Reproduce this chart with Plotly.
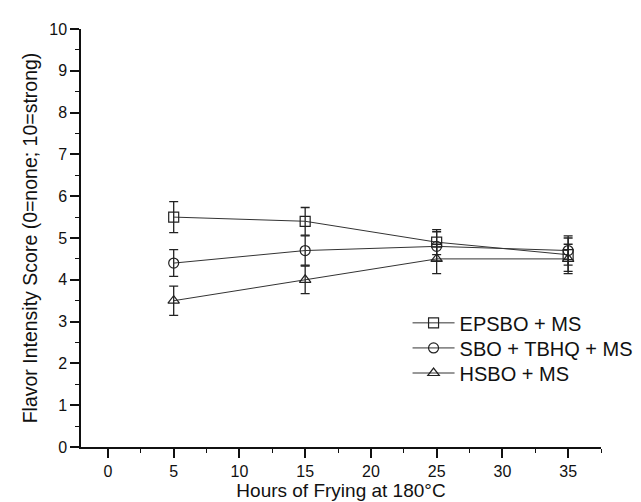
import plotly.graph_objects as go

hours = [5, 15, 25, 35]
series_names = ["EPSBO + MS", "SBO + TBHQ + MS", "HSBO + MS"]
epsbo = [5.5, 5.4, 4.9, 4.6]
epsbo_err = [0.37, 0.33, 0.30, 0.40]
sbo = [4.4, 4.7, 4.8, 4.7]
sbo_err = [0.32, 0.35, 0.35, 0.35]
hsbo = [3.5, 4.0, 4.5, 4.5]
hsbo_err = [0.35, 0.33, 0.35, 0.35]
symbols = ["square-open", "circle-open", "triangle-up-open"]
x_ticks = [0, 5, 10, 15, 20, 25, 30, 35]
y_ticks = list(range(0, 11))

legend_ids = ["legend", "legend2", "legend3"]
legend_y = [0.297, 0.237, 0.177]

font_family = "Liberation Sans, Arial, sans-serif"
fig = go.Figure()
for name, vals, errs, sym, lid in zip(series_names, [epsbo, sbo, hsbo],
                                      [epsbo_err, sbo_err, hsbo_err], symbols, legend_ids):
    fig.add_trace(go.Scatter(
        x=hours, y=vals, name=name, mode="lines+markers", legend=lid,
        line=dict(color="#333333", width=1),
        marker=dict(symbol=sym, size=10, color="#222222",
                    line=dict(width=1.2, color="#222222")),
        error_y=dict(type="data", array=errs, visible=True,
                     color="#222222", thickness=1.3, width=4.5),
    ))

legend_style = dict(x=0.628, xanchor="left", yanchor="middle",
                    font=dict(size=20, family=font_family, color="#111111"),
                    bgcolor="rgba(0,0,0,0)", itemwidth=42)
fig.update_layout(
    width=641, height=502,
    margin=dict(l=73, r=48, t=21, b=63, autoexpand=False),
    paper_bgcolor="white", plot_bgcolor="white",
    font=dict(family=font_family, color="#111111", size=16),
    showlegend=True,
    legend=dict(y=legend_y[0], **legend_style),
    legend2=dict(y=legend_y[1], **legend_style),
    legend3=dict(y=legend_y[2], **legend_style),
)
fig.update_xaxes(
    range=[-2.05, 37.5], tickvals=x_ticks, ticktext=[str(v) for v in x_ticks],
    showgrid=False, zeroline=False, showline=True, linecolor="#111111",
    linewidth=1.5, ticks="outside", ticklen=9, tickwidth=1.5, tickcolor="#111111",
    minor=dict(dtick=2.5, tick0=0, ticks="outside", ticklen=4, tickwidth=1.2,
               tickcolor="#111111", showgrid=False),
    tickfont=dict(size=16), automargin=False,
    title=dict(text="Hours of Frying at 180°C", font=dict(size=19), standoff=3),
)
fig.update_yaxes(
    range=[0, 10], tickvals=y_ticks, ticktext=[str(v) for v in y_ticks],
    showgrid=False, zeroline=False, showline=True, linecolor="#111111",
    linewidth=1.5, ticks="outside", ticklen=9, tickwidth=1.5, tickcolor="#111111",
    minor=dict(dtick=0.5, tick0=0, ticks="outside", ticklen=4, tickwidth=1.2,
               tickcolor="#111111", showgrid=False),
    tickfont=dict(size=16), automargin=False,
    title=dict(text="Flavor Intensity Score (0=none; 10=strong)", font=dict(size=19.5),
               standoff=6),
)
fig.write_html("out.html")
